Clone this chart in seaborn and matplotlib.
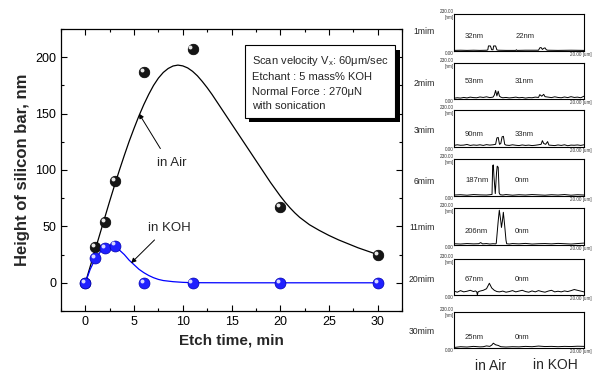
import matplotlib
matplotlib.use("Agg")
import matplotlib.pyplot as plt
import matplotlib.transforms as mtransforms
import matplotlib.patheffects as pe
from matplotlib.ticker import MultipleLocator
import seaborn as sns

# ---------------- data ----------------
etch_time = [0, 1, 2, 3, 6, 11, 20, 30]
height_air = [0, 32, 54, 90, 187, 207, 67, 25]
height_koh = [0, 22, 31, 33, 0, 0, 0, 0]

# fitted guide curves
fit_air_t = [0, 0.5, 1, 1.5, 2, 2.5, 3, 3.5, 4, 4.5, 5, 5.5, 6, 6.5, 7, 7.5, 8, 8.5, 9,
             9.5, 10, 10.5, 11, 11.5, 12, 12.5, 13, 13.5, 14, 14.5, 15, 15.5, 16, 16.5,
             17, 17.5, 18, 18.5, 19, 19.5, 20, 20.5, 21, 21.5, 22, 23, 24, 25, 26, 27, 28,
             29, 30]
fit_air_h = [0, 14.5, 29, 43.5, 58, 72.5, 86.5, 100, 113, 125.5, 137, 148, 158, 167, 175,
             181.5, 186.5, 190, 192.2, 193, 192.3, 190.5, 187.5, 183.5, 178.5, 173, 167,
             160.5, 154, 147.5, 141, 134.5, 128, 121.5, 115, 108.5, 102, 95.5, 89, 83,
             77, 71.5, 66.5, 62, 58, 51.5, 46.5, 42, 38, 34.5, 31, 28, 25]
fit_koh_t = [0, 0.5, 1, 1.5, 2, 2.5, 3, 3.5, 4, 4.5, 5, 5.5, 6, 6.5, 7, 7.5, 8, 9, 10, 11,
             15, 20, 25, 30]
fit_koh_h = [0, 12, 21, 27, 31, 33, 32.5, 29, 25, 20, 16, 12, 9, 6.5, 4.5, 3, 2, 1, 0.4,
             0.1, 0, 0, 0, 0]

# AFM profile panels
panel_times = ["1mim", "2mim", "3mim", "6mim", "11mim", "20mim", "30mim"]
air_labels = ["32nm", "53nm", "90nm", "187nm", "206nm", "67nm", "25nm"]
koh_labels = ["22nm", "31nm", "33nm", "0nm", "0nm", "0nm", "0nm"]

prof1_x = [0, 1, 2, 3, 4, 5, 5.2, 5.3, 5.6, 5.8, 6.0, 6.1, 6.4, 6.6, 6.8, 8, 9.5, 9.6, 9.7,
           11, 13.0, 13.2, 13.4, 13.6, 13.8, 14.0, 14.2, 14.4, 16, 18, 20]
prof1_y = [2, 3, 2, 3, 2, 3, 5, 30, 30, 6, 6, 30, 30, 5, 3, 2, 2, 6, 2, 3, 3, 18, 20, 8, 15,
           18, 6, 3, 2, 3, 2]
prof2_x = [0, 0.5, 1, 1.5, 2, 2.5, 3, 3.5, 4, 4.5, 5, 5.5, 6, 6.2, 6.4, 6.6, 6.8, 7.0, 7.2,
           7.5, 8, 8.5, 9, 9.5, 10, 10.5, 11, 11.5, 12, 12.5, 13, 13.2, 13.5, 13.8, 14, 14.5,
           15, 15.5, 16, 16.5, 17, 17.5, 18, 18.5, 19, 19.5, 20]
prof2_y = [5, 8, 6, 10, 7, 12, 9, 8, 13, 10, 14, 9, 12, 25, 55, 20, 50, 18, 12, 8, 10, 7, 9,
           12, 8, 10, 6, 9, 8, 12, 10, 28, 18, 30, 15, 12, 9, 14, 10, 8, 13, 9, 15, 10, 12,
           8, 18]
prof3_x = [0, 0.5, 1, 1.5, 2, 2.5, 3, 3.5, 4, 4.5, 5, 5.5, 6, 6.4, 6.6, 6.8, 7.0, 7.2, 7.4,
           7.6, 7.8, 8, 8.5, 9, 9.5, 10, 10.5, 11, 11.5, 12, 12.5, 13, 13.4, 13.6, 13.8,
           14.1, 14.4, 14.6, 14.9, 15.5, 16, 16.5, 17, 17.5, 18, 18.5, 19, 19.5, 20]
prof3_y = [8, 12, 9, 10, 14, 8, 11, 9, 12, 8, 13, 10, 12, 15, 55, 58, 15, 20, 62, 65, 15, 10,
           8, 12, 9, 7, 11, 8, 10, 7, 9, 12, 15, 38, 20, 15, 32, 10, 9, 7, 11, 8, 12, 6, 10,
           9, 11, 8, 12]
prof4_x = [0, 1, 2, 3, 4, 5, 5.5, 5.85, 5.95, 6.05, 6.15, 6.35, 6.55, 6.65, 6.8, 6.95, 7.1,
           7.5, 8, 9, 10, 11, 12, 13, 14, 15, 16, 17, 18, 19, 20]
prof4_y = [6, 8, 5, 9, 7, 6, 8, 10, 190, 195, 120, 15, 150, 187, 180, 20, 8, 6, 9, 5, 8, 6,
           9, 7, 5, 8, 6, 9, 5, 8, 6]
prof5_x = [0, 1, 2, 3, 3.8, 4.1, 4.4, 5, 5.5, 6, 6.4, 6.5, 6.8, 6.97, 7.2, 7.3, 7.45, 7.59,
           7.8, 8.0, 8.1, 8.5, 9, 10, 11, 12, 13, 14, 15, 16, 17, 18, 19, 20]
prof5_y = [8, 6, 9, 7, 8, 15, 7, 9, 6, 8, 7, 10, 150, 218, 150, 110, 150, 205, 120, 30, 8, 6,
           9, 7, 10, 6, 8, 9, 7, 10, 8, 6, 9, 12]
prof6_x = [0, 0.5, 1, 1.5, 2, 2.5, 3, 3.3, 3.5, 3.6, 3.7, 4, 4.5, 5, 5.44, 5.8, 6.2, 6.6, 7,
           7.5, 8, 8.5, 9, 9.5, 10, 10.5, 11, 11.5, 12, 12.5, 13, 13.5, 14, 14.5, 15, 15.5,
           16, 16.5, 17, 17.5, 18, 18.5, 19, 19.5, 20]
prof6_y = [25, 18, 28, 20, 24, 30, 22, 26, 20, 0, 20, 25, 30, 40, 75, 45, 30, 22, 20, 25, 18,
           22, 28, 20, 25, 30, 22, 18, 26, 20, 28, 22, 18, 25, 30, 20, 24, 20, 26, 22, 28,
           35, 30, 25, 20]
prof7_x = [0, 1, 2, 3, 4, 4.5, 5, 5.5, 5.8, 6.05, 6.4, 6.8, 7.2, 8, 9, 10, 11, 12, 13, 14,
           15, 16, 17, 18, 19, 20]
prof7_y = [5, 10, 8, 12, 9, 10, 15, 12, 20, 32, 22, 18, 10, 8, 10, 9, 12, 10, 14, 11, 12, 10,
           12, 11, 13, 12]

profiles_x = [prof1_x, prof2_x, prof3_x, prof4_x, prof5_x, prof6_x, prof7_x]
profiles_y = [prof1_y, prof2_y, prof3_y, prof4_y, prof5_y, prof6_y, prof7_y]

# ---------------- style ----------------
sns.set_style("ticks")
plt.rcParams['font.family'] = ['Liberation Sans', 'DejaVu Sans']
plt.rcParams['mathtext.fontset'] = 'custom'
plt.rcParams['mathtext.rm'] = 'Liberation Sans'
plt.rcParams['mathtext.it'] = 'Liberation Sans'

W, H = 600, 374
fig = plt.figure(figsize=(6, 3.74), dpi=100)


def fx(px):
    return px / W


def fy(py):
    return 1 - py / H


# ---------------- main axes ----------------
ax = fig.add_axes([fx(61), fy(311), (402 - 61) / W, (311 - 29) / H])

sns.lineplot(x=fit_air_t, y=fit_air_h, ax=ax, color='black', lw=0.9, sort=False,
             estimator=None, zorder=2)
sns.lineplot(x=fit_koh_t, y=fit_koh_h, ax=ax, color='#0000ff', lw=0.9, sort=False,
             estimator=None, zorder=2)

hl = mtransforms.ScaledTranslation(-1.5 / 72, 1.5 / 72, fig.dpi_scale_trans)
sns.scatterplot(x=etch_time, y=height_air, ax=ax, s=58, color='#151515',
                edgecolor='black', linewidth=0.5, zorder=3)
ax.scatter(etch_time, height_air, s=8, color='#e8e8e8', linewidths=0,
           transform=ax.transData + hl, zorder=4)
sns.scatterplot(x=etch_time, y=height_koh, ax=ax, s=62, color='#2020ff',
                edgecolor='#0000b0', linewidth=0.5, zorder=5)
ax.scatter(etch_time, height_koh, s=8, color='#d8d8ff', linewidths=0,
           transform=ax.transData + hl, zorder=6)

ax.set_xlim(-2.5, 32.5)
ax.set_ylim(-25, 225)
ax.xaxis.set_major_locator(MultipleLocator(5))
ax.xaxis.set_minor_locator(MultipleLocator(2.5))
ax.yaxis.set_major_locator(MultipleLocator(50))
ax.yaxis.set_minor_locator(MultipleLocator(25))
ax.tick_params(which='both', direction='in', top=True, right=True, labelsize=9,
               width=0.8, colors='black')
ax.tick_params(which='major', length=4)
ax.tick_params(which='minor', length=2.5)
for s in ax.spines.values():
    s.set_linewidth(0.9)
    s.set_color('black')
ax.set_xlabel("Etch time, min", fontsize=11, fontweight='bold', labelpad=4)
ax.set_ylabel("Height of silicon bar, nm", fontsize=12, fontweight='bold', labelpad=4)

# annotations
ax.annotate("", xy=(5.5, 150), xytext=(7.7, 119),
            arrowprops=dict(arrowstyle='-|>', color='black', lw=0.7, mutation_scale=7,
                            shrinkA=0, shrinkB=0))
ax.text(7.4, 106, "in Air", fontsize=9.5, ha='left', va='center')
ax.annotate("", xy=(4.7, 17.5), xytext=(7.1, 38),
            arrowprops=dict(arrowstyle='-|>', color='black', lw=0.7, mutation_scale=7,
                            shrinkA=0, shrinkB=0))
ax.text(6.4, 49, "in KOH", fontsize=9.5, ha='left', va='center')

box_txt = ("Scan velocity V$_x$: 60\u03bcm/sec\nEtchant : 5 mass% KOH\n"
           "Normal Force : 270\u03bcN\nwith sonication")
t = ax.text((252 - 61) / 341, (311 - 54) / 282, box_txt, transform=ax.transAxes,
            fontsize=8, ha='left', va='top', linespacing=1.55,
            bbox=dict(boxstyle='square,pad=0.6', fc='white', ec='black', lw=0.8))
t.get_bbox_patch().set_path_effects([
    pe.SimplePatchShadow(offset=(3, -3), shadow_rgbFace='black', alpha=1.0),
    pe.Normal()])

# ---------------- AFM profile panels ----------------
panel_tops = [14.3, 63.3, 110, 159.3, 208.3, 259, 311.7]
panel_bottoms = [50.7, 99, 146.7, 196, 245, 295, 348.3]
label_y = [88, 111, 78, 96, 83, 102, 67]
time_y = [32, 84, 130, 182, 228, 280, 331]

for i in range(7):
    top, bot = panel_tops[i], panel_bottoms[i]
    axp = fig.add_axes([fx(454), fy(bot), 130 / W, (bot - top) / H])
    sns.lineplot(x=profiles_x[i], y=profiles_y[i], ax=axp, color='black', lw=0.7,
                 sort=False, estimator=None)
    axp.set_xlim(0, 20)
    axp.set_ylim(0, 230)
    axp.set_xticks([])
    axp.set_yticks([])
    axp.set_xlabel("")
    axp.set_ylabel("")
    for s in axp.spines.values():
        s.set_linewidth(0.8)
        s.set_color('black')
        s.set_visible(True)
    axp.text(1.7, label_y[i], air_labels[i], fontsize=5.5, ha='left', va='center')
    axp.text(9.4, label_y[i], koh_labels[i], fontsize=5.5, ha='left', va='center')
    axp.text(-0.005, 1.07, "230.00", transform=axp.transAxes, fontsize=3.3,
             ha='right', va='center', color='#333333')
    axp.text(-0.005, 0.9, "[nm]", transform=axp.transAxes, fontsize=3.3,
             ha='right', va='center', color='#333333')
    axp.text(0.0, -0.07, "0.00", transform=axp.transAxes, fontsize=3.3,
             ha='right', va='center', color='#333333')
    axp.text(0.89, -0.1, "20.00 [um]", transform=axp.transAxes, fontsize=3.3,
             ha='left', va='center', color='#333333')
    fig.text(fx(435), fy(time_y[i]), panel_times[i], fontsize=6.2, ha='right',
             va='center')

fig.text(fx(491), fy(366), "in Air", fontsize=10, ha='center', va='center')
fig.text(fx(555), fy(365), "in KOH", fontsize=10, ha='center', va='center')

fig.savefig("out.png", dpi=100)
